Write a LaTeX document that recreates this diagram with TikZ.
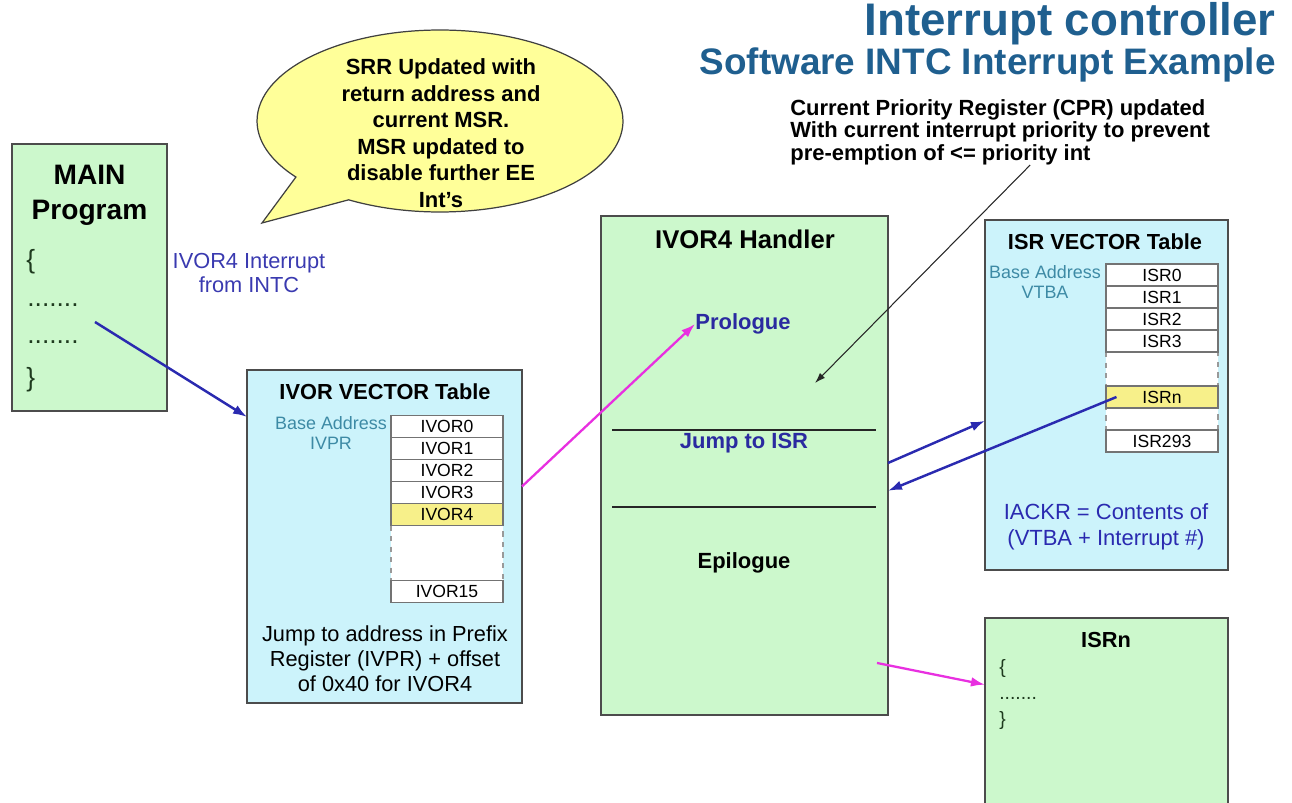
\documentclass[tikz,border=0pt]{standalone}
\usepackage{fontspec}
\setmainfont{Liberation Sans}
\usetikzlibrary{arrows.meta,shapes.callouts}

\definecolor{codegreen}{HTML}{CCF8CC}
\definecolor{tablecyan}{HTML}{CCF3FB}
\definecolor{bubbleyellow}{HTML}{FFFF99}
\definecolor{hotyellow}{HTML}{F7F08A}
\definecolor{titleblue}{HTML}{1F5F8F}
\definecolor{arrowblue}{HTML}{2A2AB0}
\definecolor{arrowpink}{HTML}{E830E0}
\definecolor{labelblue}{HTML}{3A3AB0}
\definecolor{stepblue}{HTML}{2A2AA0}
\definecolor{baseteal}{HTML}{3D8AA5}
\definecolor{darkgreen}{HTML}{1E3A1E}

\tikzset{
  ivbox/.style={draw=black!70, line width=0.8pt, inner sep=0pt, outer sep=0pt},
  greenbox/.style={ivbox, fill=codegreen},
  cyanbox/.style={ivbox, fill=tablecyan},
  tabcell/.style={draw=black!55, line width=0.6pt, fill=white, minimum width=2.24cm,
    minimum height=0.44cm, inner sep=0pt, font=\fontsize{10}{10}\selectfont},
  hotcell/.style={tabcell, fill=hotyellow},
  gapbox/.style={draw=black!40, dashed, line width=0.6pt, fill=white},
  boxtitle/.style={font=\bfseries\fontsize{12.4}{14}\selectfont, inner sep=0pt},
  basetext/.style={font=\fontsize{10.2}{11.4}\selectfont, text=baseteal, align=center, inner sep=0pt},
  bodytext/.style={font=\fontsize{12.4}{14.2}\selectfont, align=center, inner sep=0pt},
  stepname/.style={font=\bfseries\fontsize{12.5}{14}\selectfont, inner sep=0pt},
  codetext/.style={font=\fontsize{15}{15}\selectfont, text=darkgreen, anchor=west, inner sep=0pt},
  smallcode/.style={font=\fontsize{11}{11}\selectfont, text=darkgreen, anchor=west, inner sep=0pt},
  bubble/.style={ellipse callout, draw=black!75, line width=0.7pt, fill=bubbleyellow,
    minimum width=7.32cm, minimum height=3.64cm, inner sep=0pt, callout pointer arc=22},
  divider/.style={line width=0.9pt, black!85},
  bluearrow/.style={-{Latex[length=8pt,width=5.5pt]}, draw=arrowblue, line width=1.4pt},
  pinkarrow/.style={-{Latex[length=8pt,width=5.5pt]}, draw=arrowpink, line width=1.3pt},
  notearrow/.style={-{Latex[length=6pt,width=4pt]}, draw=black!85, line width=0.6pt}
}

\begin{document}
\begin{tikzpicture}[x=0.02cm,y=-0.02cm]
\useasboundingbox (0,0) rectangle (1292,803);
\clip (0,0) rectangle (1292,803);

\node[font=\bfseries\fontsize{26}{30}\selectfont, text=titleblue, anchor=east, inner sep=0pt] (title) at (1276,24) {Interrupt controller};
\node[font=\bfseries\fontsize{21}{24}\selectfont, text=titleblue, anchor=east, inner sep=0pt] (subtitle) at (1276,65) {Software INTC Interrupt Example};

% speech bubble
\node[bubble, callout absolute pointer={(262,223)}] (bub) at (440,121) {};
\node[font=\bfseries\fontsize{12.5}{15.1}\selectfont, align=center, inner sep=0pt] (srr) at (441,133)
  {SRR Updated with\\return address and\\current MSR.\\MSR updated to\\disable further EE\\Int's};

\node[font=\bfseries\fontsize{12.5}{12.8}\selectfont, align=left, anchor=west, inner sep=0pt] (cpr) at (790,132)
  {Current Priority Register (CPR) updated\\With current interrupt priority to prevent\\pre-emption of <= priority int};

% main program
\node[greenbox, minimum width=3.1cm, minimum height=5.34cm] (main) at (89.5,277.5) {};
\node[font=\bfseries\fontsize{16}{20}\selectfont, align=center, inner sep=0pt] (mainlbl) at (89.5,195) {MAIN\\Program};
\node[codetext] (obr) at (26,262) {\{};
\node[codetext] (dotsa) at (27,305) {.......};
\node[codetext] (dotsb) at (27,342) {.......};
\node[codetext] (cbr) at (26,380) {\}};
\coordinate (intsrc) at (95,322);

\node[font=\fontsize{12.4}{13.7}\selectfont, text=labelblue, align=center, inner sep=0pt] (intlbl) at (249,273) {IVOR4 Interrupt\\from INTC};

% IVOR vector table
\node[cyanbox, minimum width=5.5cm, minimum height=6.66cm] (ivor) at (384.5,536.5) {};
\node[boxtitle] (ivortitle) at (385,392) {IVOR VECTOR Table};
\node[basetext] (ivorbase) at (331,433) {Base Address\\IVPR};
\draw[gapbox] (391,525.5) rectangle (503,580.5);
\foreach \lab [count=\i from 0] in {IVOR0,IVOR1,IVOR2,IVOR3}
  \node[tabcell] (iv\i) at (447,{426.5+22*\i}) {\lab};
\node[hotcell] (iv4) at (447,514.5) {IVOR4};
\node[tabcell] (iv15) at (447,591.5) {IVOR15};
\node[bodytext] (ivornote) at (385,659) {Jump to address in Prefix\\Register (IVPR) + offset\\of 0x40 for IVOR4};

% handler
\node[greenbox, minimum width=5.74cm, minimum height=9.98cm] (handler) at (744.5,465.5) {};
\node[font=\bfseries\fontsize{14.6}{16}\selectfont, inner sep=0pt] (htitle) at (745,239) {IVOR4 Handler};
\node[stepname, text=stepblue] (prologue) at (743,324) {Prologue};
\draw[divider] (612,430) -- (876,430);
\node[stepname, text=stepblue] (jumpisr) at (744,443) {Jump to ISR};
\draw[divider] (612,507) -- (876,507);
\node[stepname] (epilogue) at (744,563) {Epilogue};
\coordinate (cprtip) at (815,383);

% ISR vector table
\node[cyanbox, minimum width=4.86cm, minimum height=7cm] (isrtab) at (1106.5,395) {};
\node[boxtitle] (isrtitle) at (1105,242) {ISR VECTOR Table};
\node[basetext] (isrbase) at (1045,282) {Base Address\\VTBA};
\draw[gapbox] (1106,352) rectangle (1218,430);
\foreach \lab [count=\i from 0] in {ISR0,ISR1,ISR2,ISR3}
  \node[tabcell] (is\i) at (1162,{275+22*\i}) {\lab};
\node[hotcell] (isn) at (1162,397) {ISRn};
\node[tabcell] (is293) at (1162,441) {ISR293};
\node[font=\fontsize{12.5}{14.8}\selectfont, text=arrowblue, align=center, inner sep=0pt] (iackr) at (1106,527)
  {IACKR = Contents of\\(VTBA + Interrupt \#)};

% ISRn routine
\node[greenbox, minimum width=4.86cm, minimum height=3.88cm] (isrnbox) at (1106.5,715) {};
\node[boxtitle] (isrntitle) at (1106,640) {ISRn};
\node[smallcode] (isrnob) at (999,669) {\{};
\node[smallcode] (isrndots) at (999,698) {.......};
\node[smallcode] (isrncb) at (999,721) {\}};

% arrows
\draw[bluearrow] (intsrc) -- (ivor.139);
\draw[pinkarrow] (ivor.20) -- (prologue.west);
\draw[notearrow] ([xshift=0.6cm]cpr.south) -- (cprtip);
\draw[bluearrow] (handler.1) -- (isrtab.192);
\draw[bluearrow] ([xshift=0.22cm]isn.west) -- (handler.350);
\draw[pinkarrow] ([xshift=-0.22cm]handler.-54) -- (isrnbox.166);
\end{tikzpicture}
\end{document}
